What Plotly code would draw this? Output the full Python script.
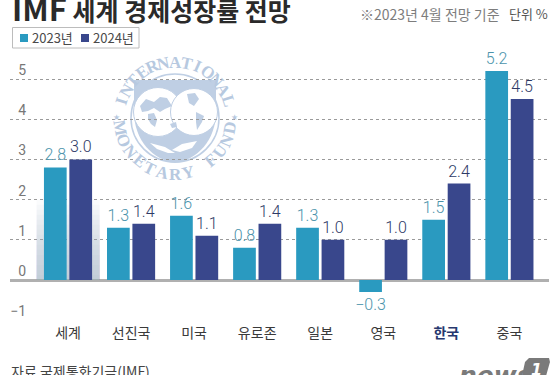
import math
import plotly.graph_objects as go

categories = ["세계", "선진국", "미국", "유로존", "일본", "영국", "한국", "중국"]
values_2023 = [2.8, 1.3, 1.6, 0.8, 1.3, -0.3, 1.5, 5.2]
values_2024 = [3.0, 1.4, 1.1, 1.4, 1.0, 1.0, 2.4, 4.5]
y_ticks = [-1, 0, 1, 2, 3, 4, 5]

KR = "Noto Sans CJK KR"
W, H = 560, 375
TEAL, NAVY = "#2a9ac0", "#39478c"
SEAL = "#bfcfe4"


def px(x):
    return x / W


def py(y):
    return 1 - y / H


def fmt(v):
    return f"{v:.1f}".replace("-", "−")


def poly(points):
    return "M" + " L".join(f"{px(x):.4f},{py(y):.4f}" for x, y in points) + " Z"


def circle(cx, cy, r, **kw):
    return dict(type="circle", xref="paper", yref="paper", layer="between",
                x0=px(cx - r), x1=px(cx + r), y0=py(cy + r), y1=py(cy - r), **kw)


def note(x, y, text, size, color, anchor="left", family=KR, angle=0):
    return dict(xref="paper", yref="paper", x=px(x), y=py(y), text=text, showarrow=False,
                xanchor=anchor, yanchor="middle", textangle=angle, borderpad=0,
                font=dict(family=family, size=size, color=color))


fig = go.Figure()
fig.add_bar(name="2023년", x=categories, y=values_2023, marker=dict(color=TEAL, line_width=0),
            text=[fmt(v) for v in values_2023], textposition="outside", cliponaxis=False,
            constraintext="none", textfont=dict(family="Roboto", size=16, weight=300, color="#4b93ab"))
fig.add_bar(name="2024년", x=categories, y=values_2024, marker=dict(color=NAVY, line_width=0),
            text=[fmt(v) for v in values_2024], textposition="outside", cliponaxis=False,
            constraintext="none", textfont=dict(family="Roboto", size=16, weight=300, color="#2e3a66"))

shapes, notes = [], []

# soft band behind the world group, fading upward
steps = 16
for i in range(steps):
    shapes.append(dict(type="rect", xref="x", yref="y", layer="between", x0=-0.5, x1=0.5,
                       y0=0, y1=2.0 * (i + 1) / steps, line_width=0,
                       fillcolor="rgba(150,180,205,0.05)"))

# IMF seal watermark
CX, CY = 175, 118
shapes.append(circle(CX, CY, 68, fillcolor="white", line_width=0))
shapes.append(circle(CX, CY, 44, fillcolor="rgba(0,0,0,0)", line=dict(color=SEAL, width=1.5)))
shapes.append(dict(type="path", xref="paper", yref="paper", layer="between", line_width=0, fillcolor=SEAL,
                   path=(f"M{px(134)},{py(80)} L{px(216)},{py(80)} L{px(216)},{py(112)} "
                         f"C{px(216)},{py(140)} {px(197)},{py(160)} {px(175)},{py(163)} "
                         f"C{px(153)},{py(160)} {px(134)},{py(140)} {px(134)},{py(112)} Z")))
shapes.append(circle(158, 112, 24.5, fillcolor="white", line=dict(color=SEAL, width=1)))
shapes.append(circle(194, 112, 23.5, fillcolor="white", line=dict(color=SEAL, width=1)))
lands = [
    [(140, 106), (146, 99), (154, 102), (160, 97), (167, 98), (172, 106), (165, 109), (160, 112), (154, 108), (148, 111), (142, 112)],
    [(148, 114), (154, 113), (157, 120), (155, 127), (151, 124), (148, 119)],
    [(170, 124), (176, 122), (177, 127), (172, 128)],
    [(187, 94), (195, 93), (199, 99), (194, 106), (189, 103)],
    [(196, 112), (204, 116), (202, 122), (197, 130), (196, 122)],
]
for land in lands:
    shapes.append(dict(type="path", xref="paper", yref="paper", layer="between", line_width=0,
                       fillcolor=SEAL, path=poly(land)))
for pts in [
    [(150, 143), (165, 147), (175, 153), (168, 153), (157, 149)],
    [(172, 150), (182, 144), (197, 141), (192, 148), (180, 152)],
]:
    shapes.append(dict(type="path", xref="paper", yref="paper", layer="between", line_width=0,
                       fillcolor="white", path=poly(pts)))

R = 56
top_word = "INTERNATIONAL"
bottom_word = "MONETARY FUND"
for i, ch in enumerate(top_word):
    t = -72 + 12 * i
    a = math.radians(t)
    notes.append(note(CX + R * math.sin(a), CY - R * math.cos(a), f"<b>{ch}</b>", 17, "#b7c9e0", "center",
                      "Liberation Serif", t))
for i, ch in enumerate(bottom_word):
    t = -80 + 160 * i / (len(bottom_word) - 1)
    a = math.radians(t)
    if ch != " ":
        notes.append(note(CX + R * math.sin(a), CY + R * math.cos(a), f"<b>{ch}</b>", 17, "#b7c9e0", "center",
                          "Liberation Serif", -t))
for sx in (-1, 1):
    notes.append(note(CX + sx * 59, CY - 1, "★", 8, "#b7c9e0", "center", "DejaVu Sans"))

# legend box
shapes.append(dict(type="rect", xref="paper", yref="paper", x0=px(12.5), x1=px(139), y0=py(48), y1=py(27.5),
                   line=dict(color="#bcbcbc", width=1), fillcolor="white"))
for x0, color in [(20, TEAL), (81, NAVY)]:
    shapes.append(dict(type="rect", xref="paper", yref="paper", x0=px(x0), x1=px(x0 + 8), y0=py(42), y1=py(34),
                       line_width=0, fillcolor=color))
notes += [
    note(31, 38, "2023년", 13, "#4a4a4a"),
    note(92, 38, "2024년", 13, "#4a4a4a"),
    note(11, 8, '<b><span style="font-size:31px">IMF</span> 세계 경제성장률 전망</b>', 25, "#2a2a2a"),
    note(359, 14, "※2023년 4월 전망 기준", 14, "#7d7d7d"),
    note(508, 14, "단위 %", 13, "#555555"),
    note(10, 371, "자료 국제통화기금(IMF)", 14, "#444444"),
    note(458, 375, "<b><i>news</i></b>", 25, "#7a7a7a", family="DejaVu Sans"),
]
shapes.append(dict(type="path", xref="paper", yref="paper", line_width=0, fillcolor="#7a7a7a",
                   path=poly([(529, 358), (549, 358), (550, 362), (546, 376), (522, 376), (525, 362)])))
notes.append(note(536, 369, "<b><i>1</i></b>", 16, "white", "center", "DejaVu Sans"))

tick_text = [c if c != "한국" else f'<span style="color:#27386f"><b>{c}</b></span>' for c in categories]

fig.update_layout(
    width=W, height=H, autosize=False, margin=dict(l=0, r=0, t=0, b=0),
    paper_bgcolor="white", plot_bgcolor="white", showlegend=False,
    barmode="group", bargap=0.194, bargroupgap=0.106,
    font=dict(family=KR, color="#444444"),
    shapes=shapes, annotations=notes,
    xaxis=dict(domain=[px(10), px(549)], range=[-0.92, 7.628], type="category", automargin=False,
               categoryorder="array", categoryarray=categories,
               tickmode="array", tickvals=categories, ticktext=tick_text,
               showgrid=False, ticks="", showline=False, zeroline=False, ticklabelstandoff=3,
               tickfont=dict(family=KR, size=14, color="#3a3a3a")),
    yaxis=dict(domain=[py(320.2), py(58.9)], range=[-1, 5.5], tickmode="array", tickvals=y_ticks,
               automargin=False,
               ticktext=[str(v).replace("-", "−") for v in y_ticks],
               showgrid=True, gridcolor="#9a9a9a", griddash="dot", gridwidth=1,
               zeroline=True, zerolinecolor="#b0b0b0", zerolinewidth=2.5, showline=False, ticks="",
               ticklabelposition="outside", ticklabelstandoff=-17, ticklabelshift=-9,
               tickfont=dict(family="Roboto", size=14, color="#777777")),
)
fig.write_html("out.html", config=dict(displayModeBar=False),
               post_script="document.body.style.margin='0';document.body.style.overflow='hidden';")
